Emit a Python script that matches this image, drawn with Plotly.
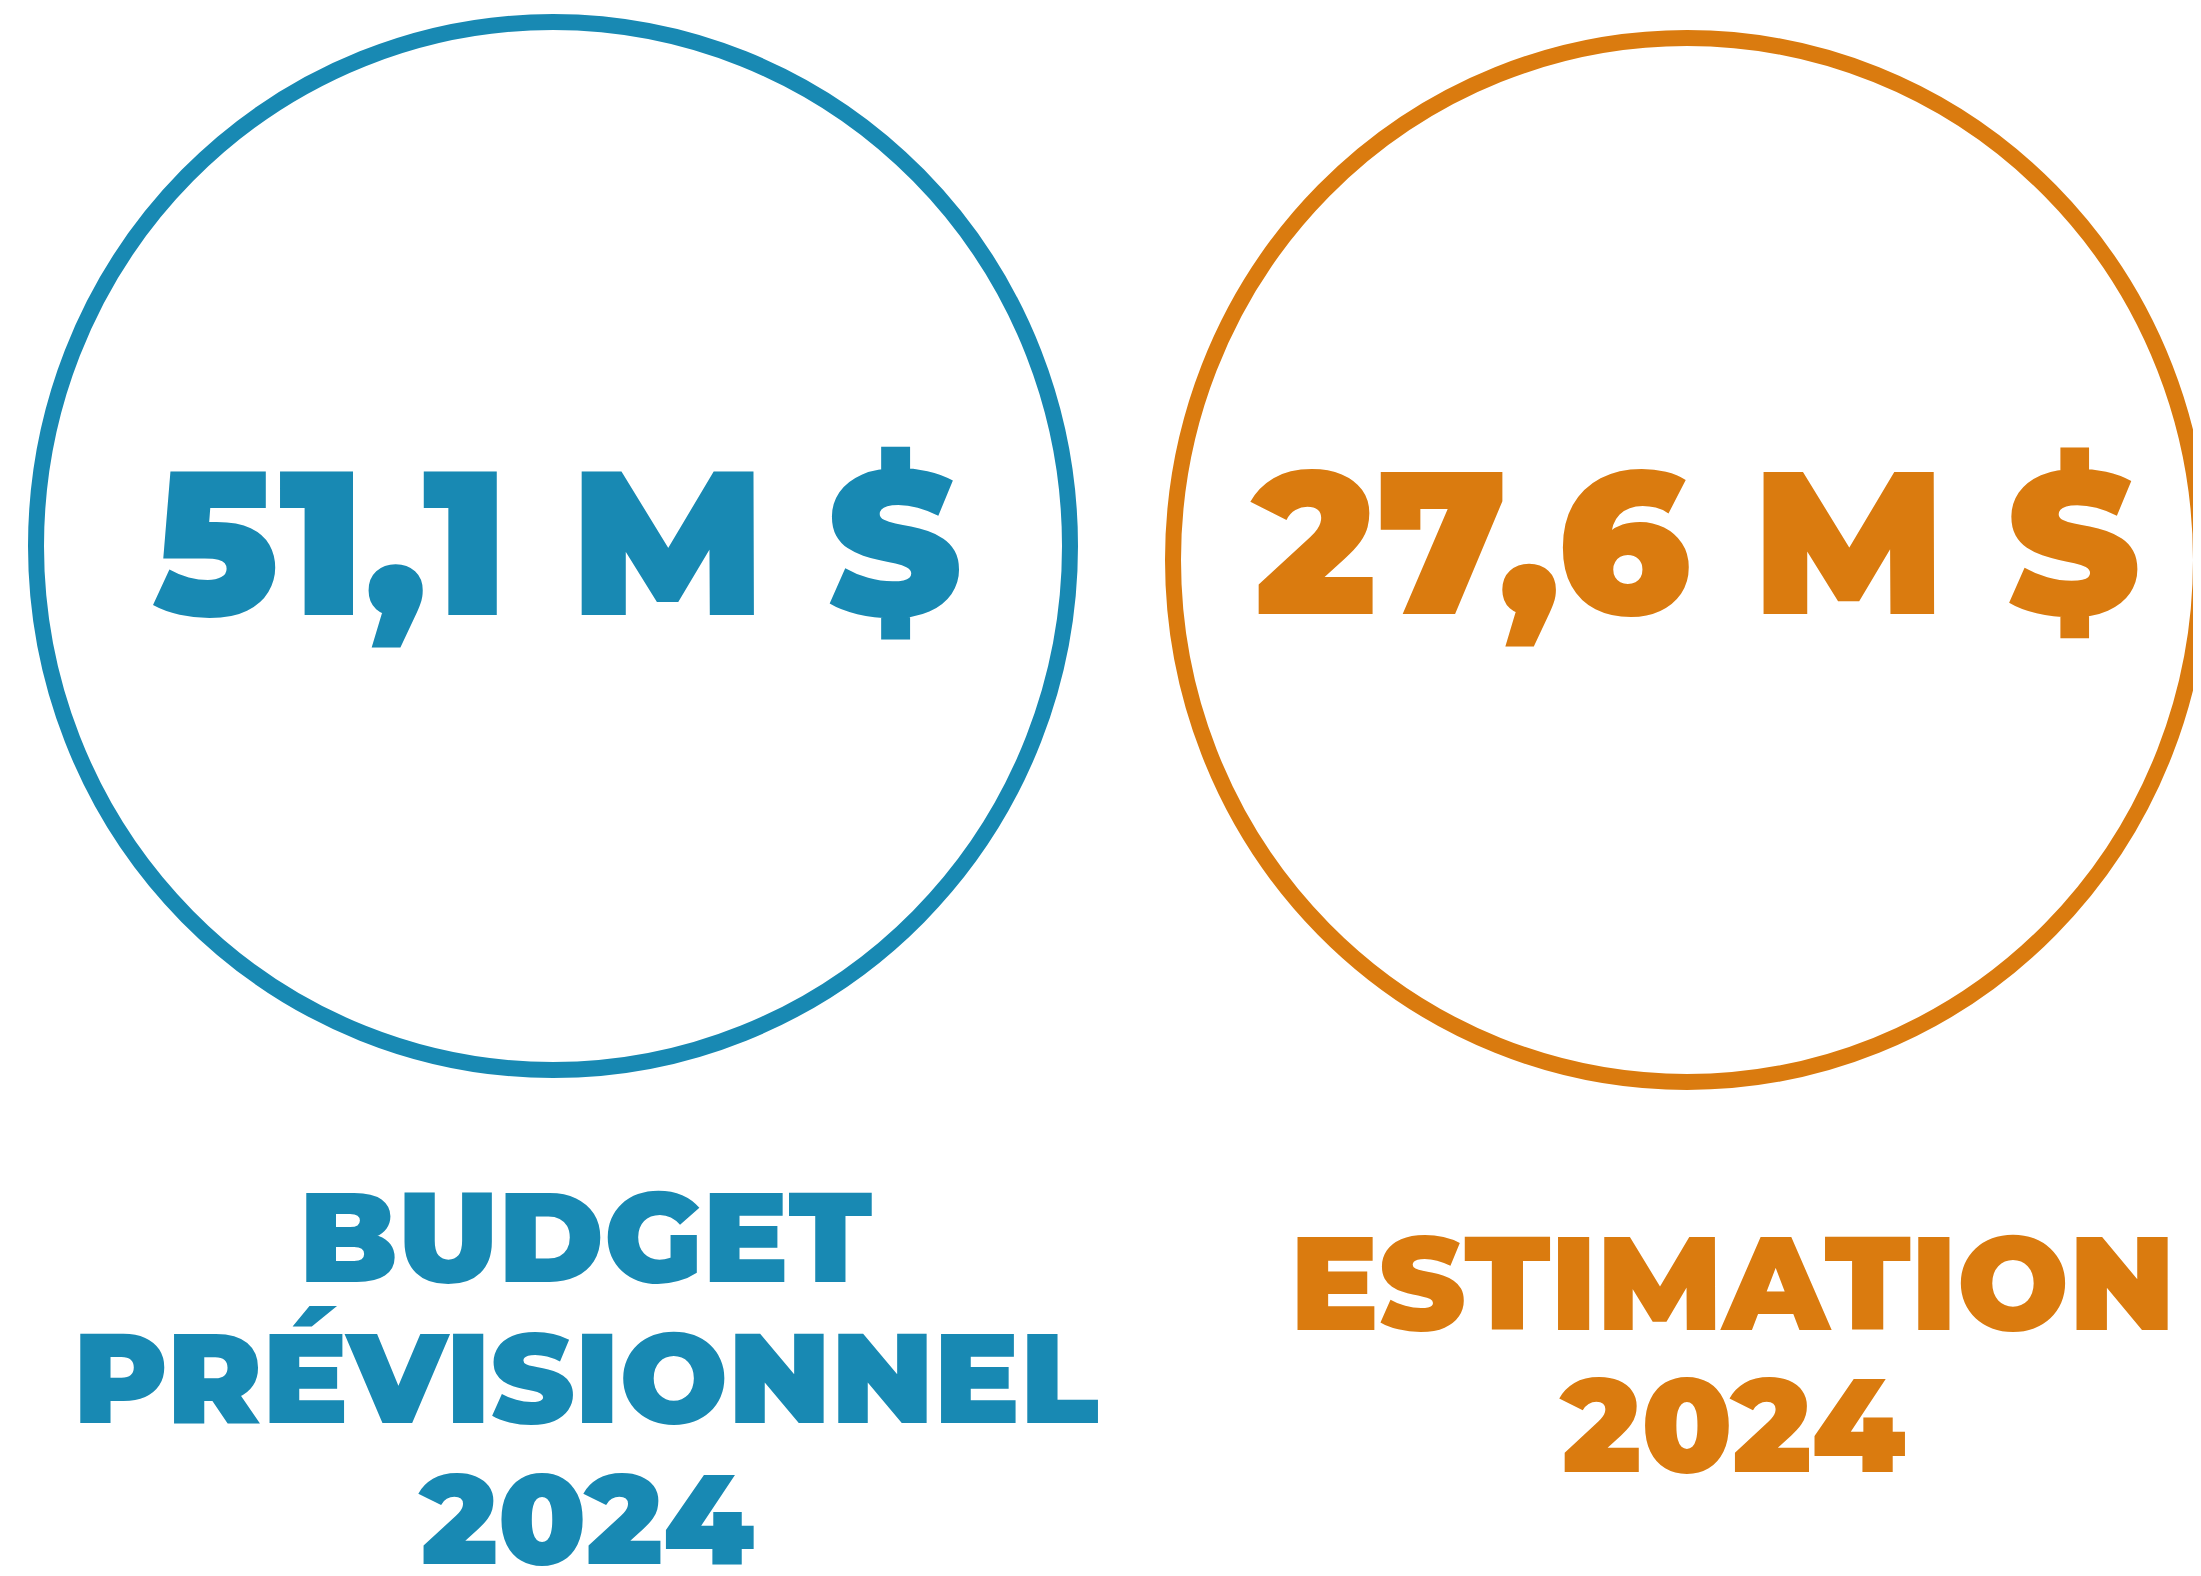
import plotly.graph_objects as go

# data
amounts = [51.1, 27.6]          # millions de $
unit = "M $"
titles = [
    ["BUDGET", "PRÉVISIONNEL", "2024"],
    ["ESTIMATION", "2024"],
]
colors = ["#1889B3", "#DA7B0F"]

# layout (page pixels)
W, H = 2193, 1560
OFF = 8  # default body margin of the html page
ring_cx = [553, 1687]
ring_cy = [546, 560]
ring_rx = [517, 514]
ring_ry = [524, 522]
ring_w = 16
value_cx = [557, 1695]
value_cy = 541
value_size = [205, 203]
title_cx = [586, 1732]
title_top = [1236, 1282]   # middle of first line
title_pitch = [141, 142]
title_size = [128, 132]

FONT = "Montserrat, Inter, 'Open Sans', sans-serif"


def fmt(v):
    return f"{v:.1f}".replace(".", ",") + " " + unit


fig = go.Figure()

for i, v in enumerate(amounts):
    fig.add_shape(
        type="circle",
        xref="x", yref="y",
        x0=ring_cx[i] - ring_rx[i], x1=ring_cx[i] + ring_rx[i],
        y0=ring_cy[i] - ring_ry[i], y1=ring_cy[i] + ring_ry[i],
        line=dict(color=colors[i], width=ring_w),
    )
    fig.add_annotation(
        x=value_cx[i], y=value_cy, xref="x", yref="y",
        text=fmt(v), showarrow=False,
        xanchor="center", yanchor="middle",
        font=dict(family=FONT, size=value_size[i], color=colors[i], weight=900),
    )
    for j, line in enumerate(titles[i]):
        fig.add_annotation(
            x=title_cx[i], y=title_top[i] + j * title_pitch[i],
            xref="x", yref="y",
            text=line, showarrow=False,
            xanchor="center", yanchor="middle",
            font=dict(family=FONT, size=title_size[i], color=colors[i], weight=900),
        )

fig.update_xaxes(range=[OFF, OFF + W], visible=False, fixedrange=True)
fig.update_yaxes(range=[OFF + H, OFF], visible=False, fixedrange=True)
fig.update_layout(
    width=W, height=H,
    margin=dict(l=0, r=0, t=0, b=0),
    paper_bgcolor="white",
    plot_bgcolor="white",
    showlegend=False,
)

fig.write_html("out.html")
